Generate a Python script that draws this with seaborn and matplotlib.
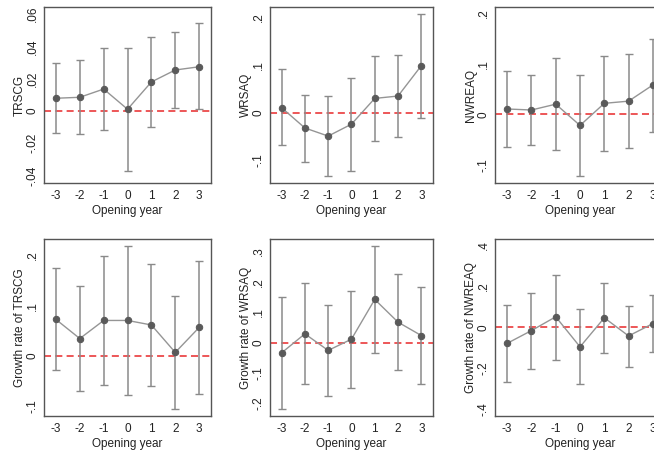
import numpy as np
import pandas as pd
import matplotlib
matplotlib.use('Agg')
import matplotlib.pyplot as plt
from matplotlib.ticker import FuncFormatter
import seaborn as sns

years = [-3, -2, -1, 0, 1, 2, 3]

# point estimates and 95% CI
trscg = [0.0079, 0.0085, 0.0136, 0.0011, 0.018, 0.0254, 0.0274]
trscg_lo = [-0.0138, -0.0144, -0.0118, -0.037, -0.0099, 0.0019, 0.0011]
trscg_hi = [0.0299, 0.0316, 0.0388, 0.0392, 0.0456, 0.0487, 0.0543]

wrsaq = [0.0105, -0.032, -0.049, -0.024, 0.030, 0.035, 0.0986]
wrsaq_lo = [-0.068, -0.103, -0.133, -0.122, -0.059, -0.051, -0.0105]
wrsaq_hi = [0.091, 0.037, 0.036, 0.072, 0.119, 0.122, 0.207]

nwreaq = [0.0105, 0.0085, 0.020, -0.022, 0.0217, 0.026, 0.058]
nwreaq_lo = [-0.064, -0.061, -0.071, -0.122, -0.0725, -0.066, -0.034]
nwreaq_hi = [0.086, 0.078, 0.112, 0.078, 0.116, 0.1186, 0.149]

g_trscg = [0.073, 0.035, 0.071, 0.071, 0.062, 0.0074, 0.057]
g_trscg_lo = [-0.0285, -0.069, -0.058, -0.078, -0.059, -0.105, -0.075]
g_trscg_hi = [0.175, 0.139, 0.200, 0.2185, 0.183, 0.1195, 0.190]

g_wrsaq = [-0.034, 0.0286, -0.026, 0.011, 0.1418, 0.067, 0.023]
g_wrsaq_lo = [-0.2187, -0.138, -0.177, -0.149, -0.034, -0.092, -0.137]
g_wrsaq_hi = [0.1505, 0.1967, 0.125, 0.170, 0.316, 0.225, 0.182]

g_nwreaq = [-0.078, -0.016, 0.051, -0.095, 0.046, -0.042, 0.018]
g_nwreaq_lo = [-0.265, -0.204, -0.158, -0.276, -0.126, -0.191, -0.119]
g_nwreaq_hi = [0.108, 0.168, 0.255, 0.0865, 0.214, 0.1045, 0.157]

ylabels = ['TRSCG', 'WRSAQ', 'NWREAQ',
           'Growth rate of TRSCG', 'Growth rate of WRSAQ', 'Growth rate of NWREAQ']
yticks = [[-0.04, -0.02, 0, 0.02, 0.04, 0.06],
          [-0.1, 0, 0.1, 0.2],
          [-0.1, 0, 0.1, 0.2],
          [-0.1, 0, 0.1, 0.2],
          [-0.2, -0.1, 0, 0.1, 0.2, 0.3],
          [-0.4, -0.2, 0, 0.2, 0.4]]
ylims = [(-0.0446, 0.0644), (-0.1474, 0.2216), (-0.1358, 0.212),
         (-0.119, 0.233), (-0.2418, 0.3407), (-0.431, 0.429)]

series = [(trscg, trscg_lo, trscg_hi), (wrsaq, wrsaq_lo, wrsaq_hi),
          (nwreaq, nwreaq_lo, nwreaq_hi), (g_trscg, g_trscg_lo, g_trscg_hi),
          (g_wrsaq, g_wrsaq_lo, g_wrsaq_hi), (g_nwreaq, g_nwreaq_lo, g_nwreaq_hi)]


def stata_fmt(v, pos):
    if abs(v) < 1e-9:
        return '0'
    s = ('%.2f' % v).rstrip('0')
    return s.replace('0.', '.')


sns.set_style('white')
plt.rcParams['font.family'] = ['Liberation Sans', 'DejaVu Sans']

fig = plt.figure(figsize=(6.54, 4.51), dpi=100)
lefts = [0.0673, 0.4128, 0.7569]
widths = [0.2554, 0.2492, 0.2600]
bottoms = [0.5942, 0.0776]
heights = [0.3902, 0.3925]

for i, (est, lo, hi) in enumerate(series):
    r, c = divmod(i, 3)
    ax = fig.add_axes([lefts[c], bottoms[r], widths[c], heights[r]])
    df = pd.DataFrame({'year': years, 'est': est, 'lo': lo, 'hi': hi})
    ax.axhline(0, color='#e8282a', lw=1.1, dashes=(4.6, 2.8), zorder=1)
    ax.errorbar(df['year'], df['est'],
                yerr=[df['est'] - df['lo'], df['hi'] - df['est']],
                fmt='none', ecolor='#8a8a8a', elinewidth=1.1, capsize=2.6,
                capthick=1, zorder=2)
    sns.lineplot(data=df, x='year', y='est', ax=ax, color='#959595', lw=1,
                 marker='o', markersize=4.6, markerfacecolor='#5a5a5a',
                 markeredgecolor='#5a5a5a', zorder=3)
    ax.set_xlim(-3.5, 3.5)
    ax.set_ylim(*ylims[i])
    ax.set_xticks(years)
    ax.set_xticklabels([str(y) for y in years])
    ax.set_yticks(yticks[i])
    ax.yaxis.set_major_formatter(FuncFormatter(stata_fmt))
    for lab in ax.get_yticklabels():
        lab.set_rotation(90)
        lab.set_va('center')
    ax.tick_params(axis='both', direction='out', length=3, width=0.8,
                   color='#444444', labelsize=8.5, pad=2, labelcolor='#222222')
    ax.tick_params(axis='y', pad=1)
    ax.set_xlabel('Opening year', fontsize=8.5, color='#222222', labelpad=2)
    ax.set_ylabel(ylabels[i], fontsize=8.5, color='#222222', labelpad=0.5)
    for sp in ax.spines.values():
        sp.set_color('#555555')
        sp.set_linewidth(1)

plt.savefig('out.png', dpi=100)
